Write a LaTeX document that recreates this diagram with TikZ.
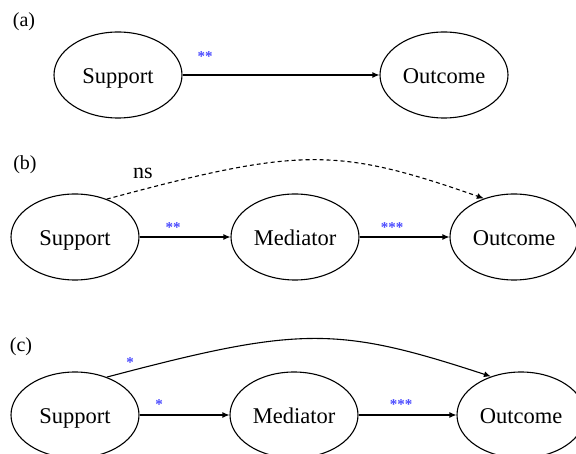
\documentclass[tikz,border=0pt]{standalone}
\usepackage{fontspec}
\setmainfont{Liberation Serif}
\usetikzlibrary{shapes.geometric,arrows.meta}
\definecolor{sigblue}{RGB}{72,72,255}
\begin{document}
\begin{tikzpicture}[x=1pt,y=-1pt,
  var/.style={draw, ellipse, line width=1.1pt, inner sep=0pt,
    minimum width=128pt, minimum height=86pt,
    font=\fontsize{22.5}{24}\selectfont, text height=18pt, text depth=0pt},
  path/.style={line width=1.1pt, -{Latex[length=7pt,width=6pt]}},
  nsline/.style={path, dash pattern=on 4pt off 3pt},
  panel/.style={font=\fontsize{20}{22}\selectfont},
  sig/.style={text=sigblue, font=\fontsize{15}{15}\selectfont\bfseries, inner sep=0pt},
  plain/.style={font=\fontsize{22}{24}\selectfont, inner sep=0pt}]
\useasboundingbox (0,0) rectangle (576,454);

% (a) total effect
\node[panel] (la) at (24,22) {(a)};
\node[var] (aS) at (118,75) {Support};
\node[var] (aO) at (444,75) {Outcome};
\draw[path] (aS) -- (aO);
\node[sig] (sa) at (205,57) {**};

% (b) full mediation
\node[panel] (lb) at (25,165) {(b)};
\node[var] (bS) at (75,237) {Support};
\node[var] (bM) at (295,237) {Mediator};
\node[var] (bO) at (514,237) {Outcome};
\draw[path] (bS) -- (bM);
\draw[path] (bM) -- (bO);
\draw[nsline] (bS.50) .. controls (300,147) and (337,147) .. (bO.128);
\node[plain] (ns) at (143,173) {ns};
\node[sig] (sb1) at (173,228) {**};
\node[sig] (sb2) at (392,228) {***};

% (c) partial mediation
\node[panel] (lc) at (21,347) {(c)};
\node[var] (cS) at (75,415) {Support};
\node[var] (cM) at (294,415) {Mediator};
\node[var] (cO) at (521,415) {Outcome};
\draw[path] (cS) -- (cM);
\draw[path] (cM) -- (cO);
\draw[path] (cS.50) .. controls (300,326) and (337,326) .. (cO.128);
\node[sig] (sc0) at (130,363) {*};
\node[sig] (sc1) at (159,405) {*};
\node[sig] (sc2) at (401,405) {***};
\end{tikzpicture}
\end{document}
